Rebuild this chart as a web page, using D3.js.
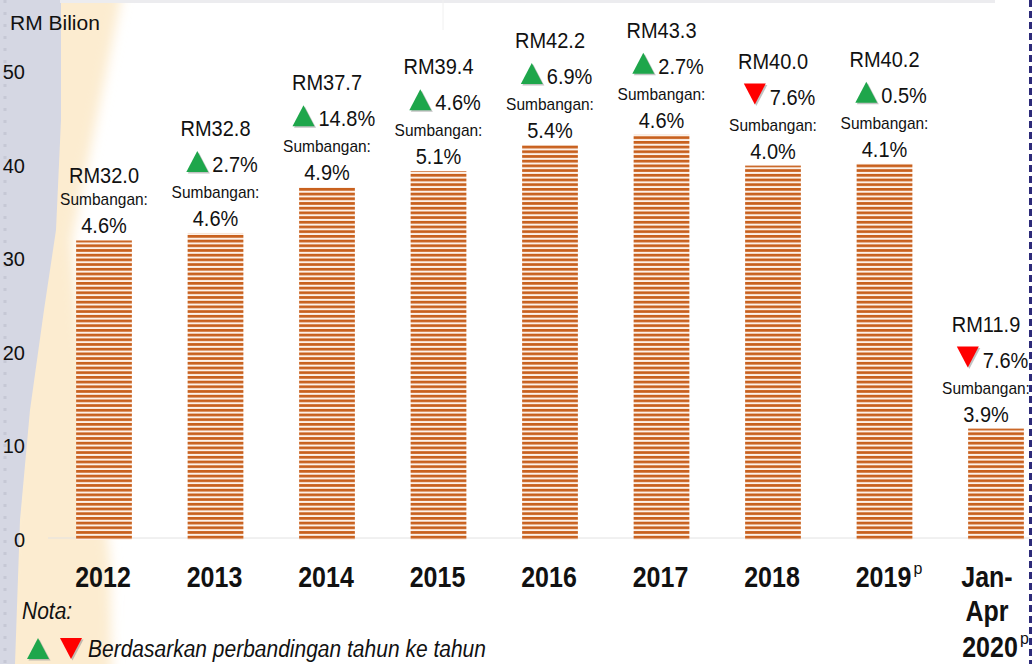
<!DOCTYPE html>
<html>
<head>
<meta charset="utf-8">
<script src="https://cdn.jsdelivr.net/npm/d3@7"></script>
<style>
  html, body { margin: 0; padding: 0; background: #fff; }
  svg { display: block; font-family: "Liberation Sans", Arial, sans-serif; }
</style>
</head>
<body>
<script>
const width = 1033;
const height = 664;

// Data
const categories = ['2012', '2013', '2014', '2015', '2016', '2017', '2018', '2019', 'Jan-Apr 2020'];
const values = [32.0, 32.8, 37.7, 39.4, 42.2, 43.3, 40.0, 40.2, 11.9];
const changes = [null, 2.7, 14.8, 4.6, 6.9, 2.7, -7.6, 0.5, -7.6];
const shares = [4.6, 4.6, 4.9, 5.1, 5.4, 4.6, 4.0, 4.1, 3.9];
const categoryLines = [['2012'], ['2013'], ['2014'], ['2015'], ['2016'], ['2017'], ['2018'], ['2019'], ['Jan-', 'Apr', '2020']];
const provisional = [false, false, false, false, false, false, false, true, true];
const yTicks = [0, 10, 20, 30, 40, 50];

const orange = '#c8601d';
const green = '#1ea64b';
const red = '#ff0000';

const fmt = d3.format('.1f');

const svg = d3
    .select('body')
    .append('svg')
    .attr('width', width)
    .attr('height', height);

const defs = svg.append('defs');

// striped fill for the bars
const pat = defs
    .append('pattern')
    .attr('id', 'stripes')
    .attr('patternUnits', 'userSpaceOnUse')
    .attr('width', 10)
    .attr('height', 4.7);
pat.append('rect').attr('width', 10).attr('height', 4.7).attr('fill', '#fdf1e8');
pat.append('rect').attr('width', 10).attr('height', 2.7).attr('fill', orange);

defs.append('filter')
    .attr('id', 'soft')
    .attr('x', '-50%').attr('y', '-10%').attr('width', '200%').attr('height', '120%')
    .append('feGaussianBlur')
    .attr('stdDeviation', 6);

// Background decoration
svg.append('path')
    .attr('d', 'M40,-20 L125,-20 L72,240 L80,330 L98,450 L110,560 L112,690 L0,690 Z')
    .attr('fill', '#fcecd0')
    .attr('filter', 'url(#soft)');
svg.append('path')
    .attr('d', 'M0,0 L61,0 L61,120 L56,230 L44,310 L30,410 L20,520 L15,664 L0,664 Z')
    .attr('fill', '#d5d7e3');
// faint dots on the left strip
svg.append('line')
    .attr('x1', 5).attr('x2', 5).attr('y1', 0).attr('y2', height)
    .attr('stroke', '#c6c8d5').attr('stroke-width', 3)
    .attr('stroke-dasharray', '3 9');
// soft shadow line at the top
svg.append('rect')
    .attr('x', 60).attr('y', 0).attr('width', 935).attr('height', 3)
    .attr('fill', '#ececef');
svg.append('line')
    .attr('x1', 443).attr('x2', 443).attr('y1', 0).attr('y2', 30)
    .attr('stroke', '#f0f0f0');

// Scales
const x = d3
    .scaleBand()
    .domain(categories)
    .range([48.25, 1051.75])
    .paddingInner(0.5)
    .paddingOuter(0.25);

const y = d3.scaleLinear().domain([0, 50]).range([540, 72]);

// baseline
svg.append('line')
    .attr('x1', 48).attr('x2', 1030)
    .attr('y1', y(0) - 2).attr('y2', y(0) - 2)
    .attr('stroke', '#e2e2e2');

// Y axis
const yAxis = svg
    .append('g')
    .attr('transform', 'translate(25,0)')
    .call(d3.axisLeft(y).tickValues(yTicks).tickSize(0).tickPadding(0));
yAxis.select('.domain').remove();
yAxis.selectAll('text')
    .attr('fill', '#111')
    .style('font-size', '20px')
    .style('font-family', '"Liberation Sans", Arial, sans-serif');

svg.append('text')
    .attr('x', 10)
    .attr('y', 30)
    .style('font-size', '21px')
    .attr('fill', '#111')
    .text('RM Bilion');

// Bars
svg.selectAll('rect.bar')
    .data(values)
    .enter()
    .append('rect')
    .attr('class', 'bar')
    .attr('x', (d, i) => x(categories[i]))
    .attr('y', d => y(d))
    .attr('width', x.bandwidth())
    .attr('height', d => y(0) - y(d))
    .attr('fill', 'url(#stripes)');

// helper: text stretched a little vertically like the source
function label(g, tx, ty, str, size, opts = {}) {
    return g.append('text')
        .attr('transform', `translate(${tx},${ty}) scale(1,${opts.sy || 1.12})`)
        .attr('text-anchor', opts.anchor || 'middle')
        .style('font-size', size + 'px')
        .style('font-weight', opts.weight || 'normal')
        .style('font-style', opts.style || 'normal')
        .attr('fill', '#111')
        .text(str);
}

function triangle(g, tx, base, up, color) {
    const w = 22, h = 21;
    const pts = up
        ? [[0, 0], [w / 2, -h], [w, 0]]
        : [[0, -h], [w, -h], [w / 2, 0]];
    const line = d3.line();
    g.append('path')
        .attr('d', line(pts) + 'Z')
        .attr('transform', `translate(${tx + 1.5},${base + 1.5})`)
        .attr('fill', '#9a9a9a')
        .attr('opacity', 0.6);
    g.append('path')
        .attr('d', line(pts) + 'Z')
        .attr('transform', `translate(${tx},${base})`)
        .attr('fill', color);
}

// Annotations above bars
const ann = svg.append('g');
values.forEach((v, i) => {
    // last group is pulled in a little so it stays inside the frame
    const shift = i === values.length - 1 ? -10 : 0;
    const cx = x(categories[i]) + x.bandwidth() / 2 + shift;
    const top = y(v);
    label(ann, cx, top - 7, fmt(shares[i]) + '%', 20);
    label(ann, cx, top - 35, 'Sumbangan:', 15.5);
    if (changes[i] === null) {
        label(ann, cx, top - 57, 'RM' + fmt(v), 20);
    } else {
        const ch = changes[i];
        const txt = fmt(Math.abs(ch)) + '%';
        const tw = txt.length * 10.6;
        const gw = 26 + tw;
        const gx = cx + 5 - gw / 2;
        triangle(ann, gx, top - 61, ch >= 0, ch >= 0 ? green : red);
        label(ann, gx + 26, top - 61, txt, 20, { anchor: 'start' });
        label(ann, cx, top - 97, 'RM' + fmt(v), 20);
    }
});

// Category labels
const xl = svg.append('g');
const lineY = [587, 621, 657];
categoryLines.forEach((lines, i) => {
    const last = lines.length > 1;
    const cx = x(categories[i]) + x.bandwidth() / 2 - (last ? 9 : 1);
    lines.forEach((s, j) => {
        const dx = last && j === lines.length - 1 ? 3 : 0;
        label(xl, cx + dx, lineY[j], s, 25, { weight: 'bold', sy: 1.2 });
    });
    if (provisional[i]) {
        const j = lines.length - 1;
        const dx = last ? 3 : 0;
        xl.append('text')
            .attr('x', cx + dx + 30)
            .attr('y', lineY[j] - 13)
            .style('font-size', '16px')
            .attr('fill', '#111')
            .text('p');
    }
});

// Note
label(svg, 22, 619, 'Nota:', 21, { anchor: 'start', style: 'italic', sy: 1.1 });
triangle(svg, 27, 659, true, green);
triangle(svg, 60, 659, false, red);
label(svg, 88, 657, 'Berdasarkan perbandingan tahun ke tahun', 21, { anchor: 'start', style: 'italic', sy: 1.1 });

// dashed border on the right
svg.append('line')
    .attr('x1', 1030.5).attr('x2', 1030.5)
    .attr('y1', 0).attr('y2', height)
    .attr('stroke', '#2d2b7a')
    .attr('stroke-width', 3)
    .attr('stroke-dasharray', '7 4');
</script>
</body>
</html>
